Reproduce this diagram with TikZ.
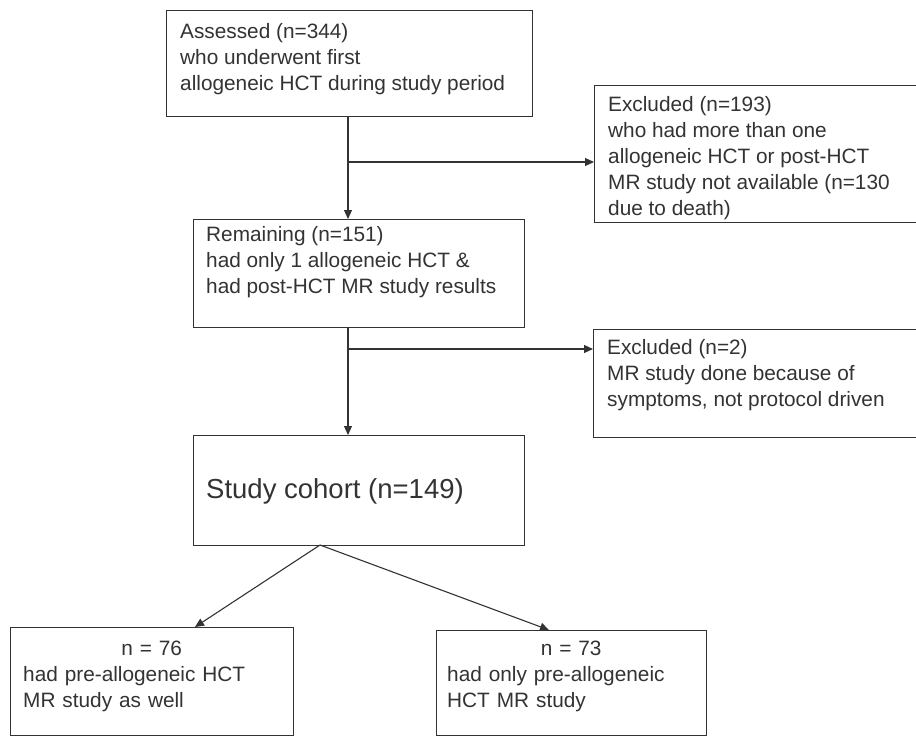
\documentclass[tikz,border=0pt]{standalone}
\usepackage{fontspec}
\setmainfont{Liberation Sans}
\usetikzlibrary{arrows.meta}
\definecolor{ink}{HTML}{333333}

\begin{document}
\begin{tikzpicture}[
x = 1pt, y = -1pt,
every node/.style = {inner sep = 0pt, text = ink},
box/.style = {draw = ink, line width = 1.2pt, anchor = north west},
txt/.style = {anchor = north west, align = left, font = \fontsize{20.8}{26}\selectfont},
big/.style = {anchor = base west, font = \fontsize{27.5}{33}\selectfont},
arr/.style = {draw = ink, line width = 1.1pt, -{Triangle[length = 9pt, width = 8pt]}}
]
\useasboundingbox (0,0) rectangle (916,737);
\fill[white] (0,0) rectangle (916,737);

\node[box, minimum width = 366pt, minimum height = 106pt] (assessed) at (166,10) {};
\node[txt] (assessedtext) at (180,23) {Assessed (n=344)\\ who underwent first\\ allogeneic HCT during study period};

\node[box, minimum width = 330pt, minimum height = 137pt] (excla) at (594,85) {};
\node[txt] (exclatext) at (608,96) {Excluded (n=193)\\ who had more than one\\ allogeneic HCT or post-HCT\\ MR study not available (n=130\\ due to death)};

\node[box, minimum width = 331pt, minimum height = 108pt] (remaining) at (193,219) {};
\node[txt] (remainingtext) at (206,226) {Remaining (n=151)\\ had only 1 allogeneic HCT \&\\ had post-HCT MR study results};

\node[box, minimum width = 330pt, minimum height = 108pt] (exclb) at (593,329) {};
\node[txt] (exclbtext) at (607,339) {Excluded (n=2)\\ MR study done because of\\ symptoms, not protocol driven};

\node[box, minimum width = 331pt, minimum height = 110pt] (cohort) at (193,435) {};
\node[big] (cohorttext) at (206,498) {Study cohort (n=149)};

\node[box, minimum width = 283pt, minimum height = 108pt] (withpre) at (10,627) {};
\node[txt, text width = 257pt] (withpretext) at (23,641) {\makebox[\linewidth]{n = 76}\\ had pre-allogeneic HCT\\ MR study as well};

\node[box, minimum width = 270pt, minimum height = 105pt] (onlypre) at (436,630) {};
\node[txt, text width = 248pt] (onlypretext) at (447,641) {\makebox[\linewidth]{n = 73}\\ had only pre-allogeneic\\ HCT MR study};

\coordinate (splita) at (348,162);
\coordinate (splitb) at (348,349);
\coordinate (fork) at (320,545);
\coordinate (tipl) at (195,627);
\coordinate (tipr) at (549,630);

\draw[arr] (assessed.south -| splita) -- (remaining.north -| splita);
\draw[arr] (splita) -- (splita -| excla.west);
\draw[arr] (remaining.south -| splitb) -- (cohort.north -| splitb);
\draw[arr] (splitb) -- (splitb -| exclb.west);
\draw[arr] (fork) -- (tipl);
\draw[arr] (fork) -- (tipr);
\end{tikzpicture}
\end{document}
